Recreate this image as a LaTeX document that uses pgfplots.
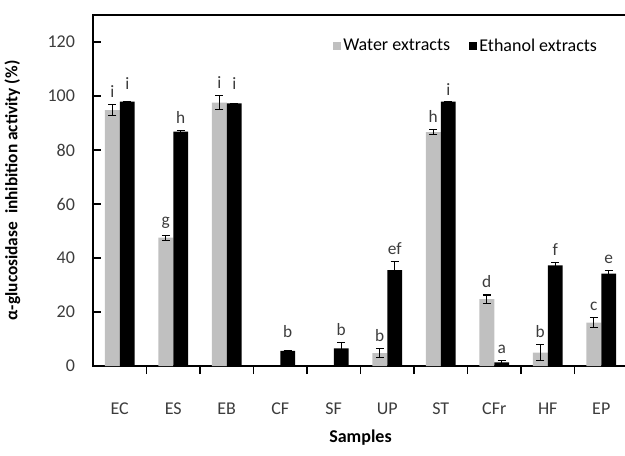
\documentclass[border=0pt]{standalone}
\usepackage{fontspec}
\setmainfont{Carlito}
\usepackage{pgfplots}
\pgfplotsset{compat=1.18}

\definecolor{water}{RGB}{192,192,192}
\definecolor{lettergray}{RGB}{60,60,60}

\begin{document}
\begin{tikzpicture}
\begin{axis}[
    scale only axis,
    width=401.25pt, height=263.25pt,
    xmin=-0.5, xmax=9.5,
    ymin=0, ymax=130,
    axis line style={line width=0.9pt},
    tick align=inside,
    xtick pos=bottom, ytick pos=left,
    xtick={0,...,9},
    xticklabels={EC,ES,EB,CF,SF,UP,ST,CFr,HF,EP},
    major x tick style={draw=none},
    minor xtick={0.5,1.5,...,8.5},
    minor tick length=6pt,
    major tick length=6pt,
    every tick/.style={black, line width=0.8pt},
    ytick={0,20,...,120},
    /pgf/number format/assume math mode=true,
    tick label style={font=\fontsize{13.5}{16}\selectfont, text=lettergray},
    yticklabel style={xshift=-10pt},
    xticklabel style={yshift=-18pt},
    xlabel={\bfseries Samples},
    xlabel style={font=\fontsize{13.5}{16}\selectfont, at={(axis description cs:0.5,-0.168)}, anchor=north},
    ylabel={\bfseries α-glucosidase\ \ inhibition activity (\%)},
    ylabel style={font=\fontsize{13}{16}\selectfont, at={(axis description cs:-0.127,0.5)}, anchor=south},
    ybar, bar width=0.28,
    legend columns=2,
    legend style={draw=none, fill=none, at={(axis description cs:0.955,0.912)}, anchor=east,
        font=\fontsize{13.5}{16}\selectfont, /tikz/every even column/.append style={column sep=12pt}},
    error bars/y dir=both, error bars/y explicit,
    error bars/error bar style={black, line width=0.8pt},
    error bars/error mark options={rotate=90, mark size=3pt, line width=0.8pt, black},
]
\coordinate (sw) at (rel axis cs:0,0);
\coordinate (ne) at (rel axis cs:1,1);

\addplot[fill=water, draw=none, bar shift=-0.14,
    legend image code/.code={\fill[water] (0pt,-3pt) rectangle (6pt,3pt);}]
coordinates {
    (0,94.8) +- (0,2.0)
    (1,47.5) +- (0,1.0)
    (2,97.5) +- (0,2.6)
    (5,4.8) +- (0,1.6)
    (6,86.6) +- (0,1.0)
    (7,24.8) +- (0,1.5)
    (8,5.0) +- (0,3.0)
    (9,16.1) +- (0,1.8)
};
\addlegendentry{Water extracts}

\addplot[fill=black, draw=none, bar shift=0.14,
    legend image code/.code={\fill[black] (0pt,-3pt) rectangle (6pt,3pt);}]
coordinates {
    (0,97.9) +- (0,0.0)
    (1,86.8) +- (0,0.3)
    (2,97.3) +- (0,0.0)
    (3,5.6) +- (0,0.0)
    (4,6.5) +- (0,2.3)
    (5,35.5) +- (0,3.3)
    (6,97.9) +- (0,0.0)
    (7,1.3) +- (0,0.9)
    (8,37.3) +- (0,1.0)
    (9,34.2) +- (0,1.0)
};
\addlegendentry{Ethanol extracts}

% significance letters
\addplot[sharp plot, bar shift=0, draw=none, mark=none, forget plot,
    error bars/y dir=none,
    nodes near coords, point meta=explicit symbolic,
    nodes near coords style={anchor=south, inner sep=0pt, yshift=5pt, text=lettergray,
        font=\fontsize{13}{16}\selectfont}]
coordinates {
    (-0.14,96.8) [i]
    (0.86,48.5) [g]
    (1.86,100.1) [i]
    (4.86,6.4) [b]
    (5.86,87.6) [h]
    (6.86,26.3) [d]
    (7.86,8.0) [b]
    (8.86,17.9) [c]
    (0.14,99.7) [i]
    (1.14,87.1) [h]
    (2.14,99.7) [i]
    (3.14,8.0) [b]
    (4.14,8.8) [b]
    (5.14,38.8) [ef]
    (6.14,97.5) [i]
    (7.14,2.2) [a]
    (8.14,38.3) [f]
    (9.14,35.2) [e]
};
\end{axis}
\pgfresetboundingbox
\path[use as bounding box] ([xshift=-69.75pt,yshift=-66.75pt]sw) rectangle ([xshift=-2.25pt,yshift=11.25pt]ne);
\end{tikzpicture}
\end{document}
